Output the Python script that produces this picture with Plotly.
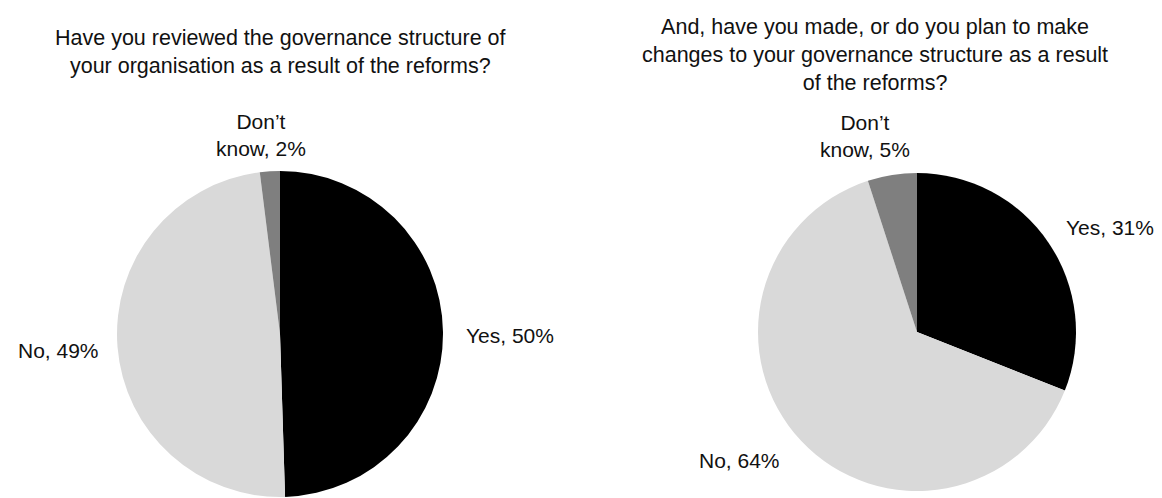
import plotly.graph_objects as go

# Survey responses
categories = ["Yes", "No", "Don\u2019t know"]
label_names = ["Yes", "No", "Don\u2019t<br>know"]
reviewed_pct = [50, 49, 2]
changes_pct = [31, 64, 5]

title_reviewed = "Have you reviewed the governance structure of<br>your organisation as a result of the reforms?"
title_changes = ("And, have you made, or do you plan to make<br>"
                 "changes to your governance structure as a result<br>of the reforms?")

slice_colors = ["#000000", "#d9d9d9", "#7f7f7f"]

W, H = 1162, 498
FONT = "Liberation Sans, Arial, sans-serif"
TEXT_COLOR = "#111111"


def px(x):
    return x / W


def py(y):
    return 1 - y / H


def pie_domain(cx, cy, r):
    return dict(x=[px(cx - r), px(cx + r)], y=[py(cy + r), py(cy - r)])


fig = go.Figure()

pies = [
    (reviewed_pct, pie_domain(280, 334, 163)),
    (changes_pct, pie_domain(917, 332, 159)),
]
for values, dom in pies:
    fig.add_trace(go.Pie(
        labels=categories,
        values=values,
        domain=dom,
        sort=False,
        direction="clockwise",
        rotation=0,
        marker=dict(colors=slice_colors, line=dict(width=0)),
        textinfo="none",
        hoverinfo="label+value",
        showlegend=False,
    ))

# Data labels: (pie values, slice index, centre x px, centre y px)
label_spots = [
    (reviewed_pct, 0, 510, 335),
    (reviewed_pct, 1, 58, 350),
    (reviewed_pct, 2, 261, 135),
    (changes_pct, 0, 1110, 228),
    (changes_pct, 1, 739, 460),
    (changes_pct, 2, 865, 136),
]
annotations = []
for values, i, x, y in label_spots:
    annotations.append(dict(
        text=f"{label_names[i]}, {values[i]}%",
        x=px(x), y=py(y), xref="paper", yref="paper",
        xanchor="center", yanchor="middle", align="center",
        showarrow=False,
        font=dict(family=FONT, size=21, color=TEXT_COLOR),
    ))

for text, x, y in [(title_reviewed, 280, 52), (title_changes, 875, 55)]:
    annotations.append(dict(
        text=text, x=px(x), y=py(y), xref="paper", yref="paper",
        xanchor="center", yanchor="middle", align="center",
        showarrow=False,
        font=dict(family=FONT, size=21.5, color=TEXT_COLOR),
    ))

fig.update_layout(
    width=W, height=H,
    margin=dict(l=0, r=0, t=0, b=0),
    paper_bgcolor="white",
    plot_bgcolor="white",
    annotations=annotations,
)

fig.write_html("out.html", config={"displayModeBar": False})
